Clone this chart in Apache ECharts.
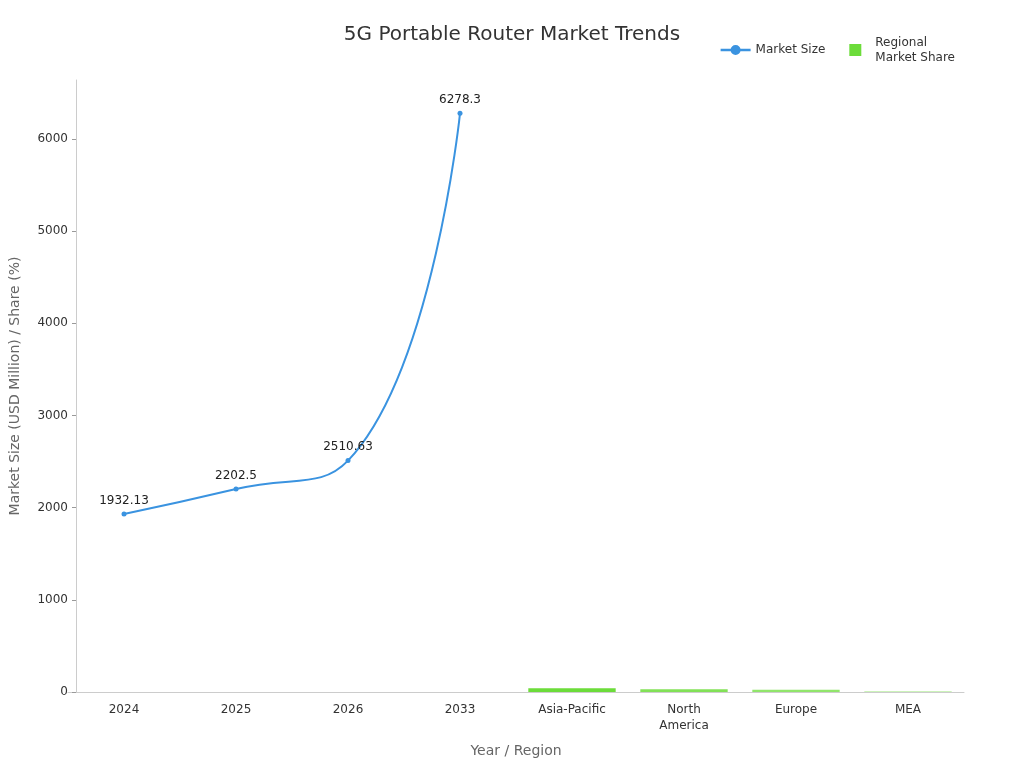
<!DOCTYPE html><html><head><meta charset="utf-8"><script src="https://cdn.jsdelivr.net/npm/echarts@6/dist/echarts.min.js"></script></head><body style="margin:0"><div id="c" style="width:1024px;height:768px"></div><script>
const categories=['2024','2025','2026','2033','Asia-Pacific','North America','Europe','MEA'];
const marketSize=[1932.13,2202.5,2510.63,6278.3,null,null,null,null];
const regionalShare=[null,null,null,null,40,30,24,10];
const barOpacity=[1,1,1,1,1,0.85,0.75,0.35];
const ch=echarts.init(document.getElementById('c'));
ch.setOption({
 title:{text:'5G Portable Router Market Trends',left:'center',top:20,textStyle:{fontFamily:'DejaVu Sans',fontSize:20,fontWeight:'normal',color:'#333'}},
 legend:{right:64,top:30,itemGap:24,textStyle:{fontFamily:'DejaVu Sans',fontSize:12,color:'#333',lineHeight:15},
  data:[{name:'Market Size',icon:'path://M0,4.5L12,4.5L12,5.5L0,5.5Z M6,3A2,2,0,1,1,5.99,3Z',itemStyle:{color:'#3a93e0'}},{name:'Regional\nMarket Share',icon:'path://M9,0L21,0L21,12L9,12Z',itemStyle:{color:'#6cdc3a'}}],itemWidth:30,itemHeight:12},
 grid:{left:68,right:60,top:80,bottom:76,outerBoundsMode:'none'},
 xAxis:{type:'category',data:categories.map(c=>c.replace('North America','North\nAmerica')),name:'Year / Region',nameLocation:'middle',nameGap:52,nameTextStyle:{fontFamily:'DejaVu Sans',fontSize:14,color:'#666'},axisLine:{lineStyle:{color:'#ccc'}},axisTick:{alignWithLabel:true,lineStyle:{color:'#333'}},axisLabel:{margin:10,lineHeight:16,fontFamily:'DejaVu Sans',fontSize:12,color:'#333',interval:0}},
 yAxis:{type:'value',min:0,max:6640,interval:1000,offset:-8,name:'Market Size (USD Million) / Share (%)',nameLocation:'middle',nameGap:54,nameTextStyle:{fontFamily:'DejaVu Sans',fontSize:14,color:'#666'},axisLine:{show:true,lineStyle:{color:'#ccc'}},axisTick:{show:true,length:4,lineStyle:{color:'#999'}},splitLine:{show:false},axisLabel:{showMaxLabel:false,formatter:v=>String(v),fontFamily:'DejaVu Sans',fontSize:12,color:'#333'}},
 series:[
  {name:'Market Size',type:'line',smooth:true,data:marketSize,color:'#3a93e0',symbol:'circle',symbolSize:5,lineStyle:{width:2},label:{show:true,position:'top',fontFamily:'DejaVu Sans',fontSize:12,color:'#222'}},
  {name:'Regional\nMarket Share',type:'bar',barGap:'-100%',barWidth:'78%',color:'#6cdc3a',data:regionalShare.map((v,i)=>v==null?null:{value:v,itemStyle:{opacity:barOpacity[i]}})}
 ]
});
</script></body></html>
